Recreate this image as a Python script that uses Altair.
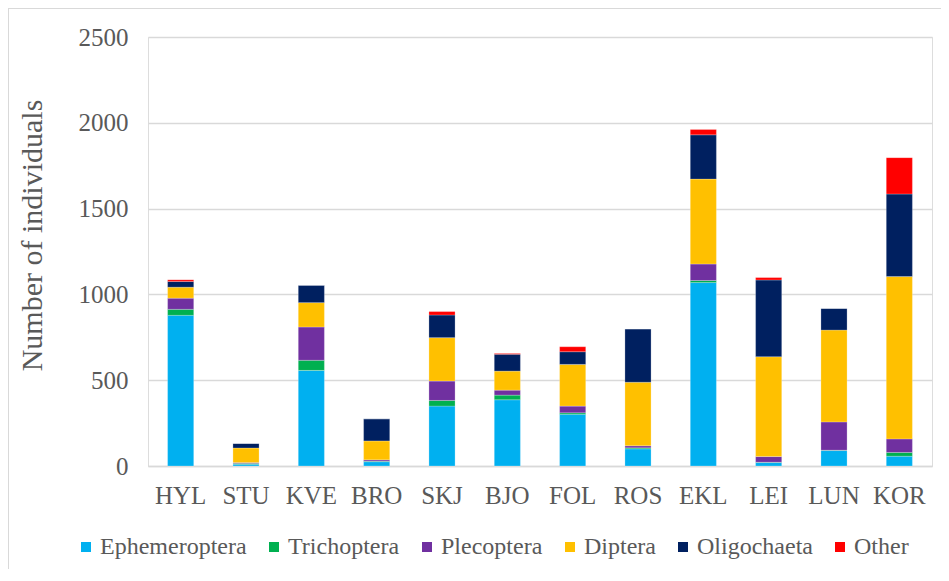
import altair as alt
import pandas as pd

sites = ["HYL", "STU", "KVE", "BRO", "SKJ", "BJO", "FOL", "ROS", "EKL", "LEI", "LUN", "KOR"]
groups = ["Ephemeroptera", "Trichoptera", "Plecoptera", "Diptera", "Oligochaeta", "Other"]
colors = ["#00B0F0", "#00B050", "#7030A0", "#FFC000", "#002060", "#FF0000"]

ephemeroptera = [878, 10, 557, 25, 349, 386, 301, 100, 1069, 20, 90, 57]
trichoptera = [35, 5, 59, 3, 33, 27, 9, 6, 12, 2, 2, 22]
plecoptera = [65, 5, 194, 8, 113, 29, 39, 12, 96, 33, 165, 79]
diptera = [64, 85, 142, 110, 253, 111, 243, 370, 495, 582, 535, 946]
oligochaeta = [33, 26, 101, 129, 132, 98, 74, 311, 258, 447, 126, 481]
other = [10, 0, 0, 0, 20, 5, 29, 0, 31, 14, 0, 212]

series = [ephemeroptera, trichoptera, plecoptera, diptera, oligochaeta, other]
rows = []
for gi, (g, vals) in enumerate(zip(groups, series)):
    for s, v in zip(sites, vals):
        rows.append({"site": s, "group": g, "value": v, "order": gi})
df = pd.DataFrame(rows)

FONT = "Liberation Serif"
GRAY = "#595959"
W, H = 784, 429
PL, PT, PR, PB = 140, 29, 9, 103

bars = alt.Chart(df).mark_bar(stroke="#ffffff", strokeWidth=0.4, strokeOpacity=0.6).encode(
    x=alt.X("site:N", sort=sites, title=None,
            scale=alt.Scale(paddingInner=0.6, paddingOuter=0.3),
            axis=alt.Axis(labelAngle=0, labelFont=FONT, labelFontSize=25, labelColor=GRAY,
                          ticks=False, domainColor="#d9d9d9", domainWidth=1.5,
                          labelPadding=17, grid=False)),
    y=alt.Y("value:Q", stack="zero",
            scale=alt.Scale(domain=[0, 2500], nice=False),
            axis=alt.Axis(values=[0, 500, 1000, 1500, 2000, 2500], format="d",
                          title="Number of individuals",
                          labelFont=FONT, labelFontSize=25, labelColor=GRAY, labelPadding=20,
                          ticks=False, domain=False, gridColor="#d9d9d9", gridWidth=1.5,
                          titleFont=FONT, titleFontSize=30, titleColor=GRAY, titleFontWeight="normal",
                          titleAngle=-90, titleX=-116, titleY=198, titleAlign="center",
                          titleBaseline="middle")),
    color=alt.Color("group:N", sort=groups,
                    scale=alt.Scale(domain=groups, range=colors),
                    legend=alt.Legend(title=None, orient="none", direction="horizontal", columns=6,
                                      legendX=-74, legendY=498, symbolType="square", symbolSize=100,
                                      symbolStrokeWidth=0, labelFont=FONT, labelFontSize=24,
                                      labelColor=GRAY, labelOffset=2, columnPadding=15, padding=0,
                                      labelLimit=300)),
    order=alt.Order("order:Q", sort="ascending"),
)

border_top = alt.Chart(df).mark_rule(color="#d9d9d9", strokeWidth=1).encode(
    x=alt.value(-PL + 0.5), x2=alt.value(W + PR), y=alt.value(-PT + 0.5))
border_left = alt.Chart(df).mark_rule(color="#d9d9d9", strokeWidth=1).encode(
    x=alt.value(-PL + 0.5), y=alt.value(-PT + 0.5), y2=alt.value(H + PB))

chart = alt.layer(bars, border_top, border_left).properties(
    width=W, height=H,
    autosize=alt.AutoSizeParams(type="none"),
    padding={"left": PL, "top": PT, "right": PR, "bottom": PB},
).configure_view(stroke=None).configure(background="white")

chart.save("out.html", embed_options={"renderer": "svg", "actions": False})
